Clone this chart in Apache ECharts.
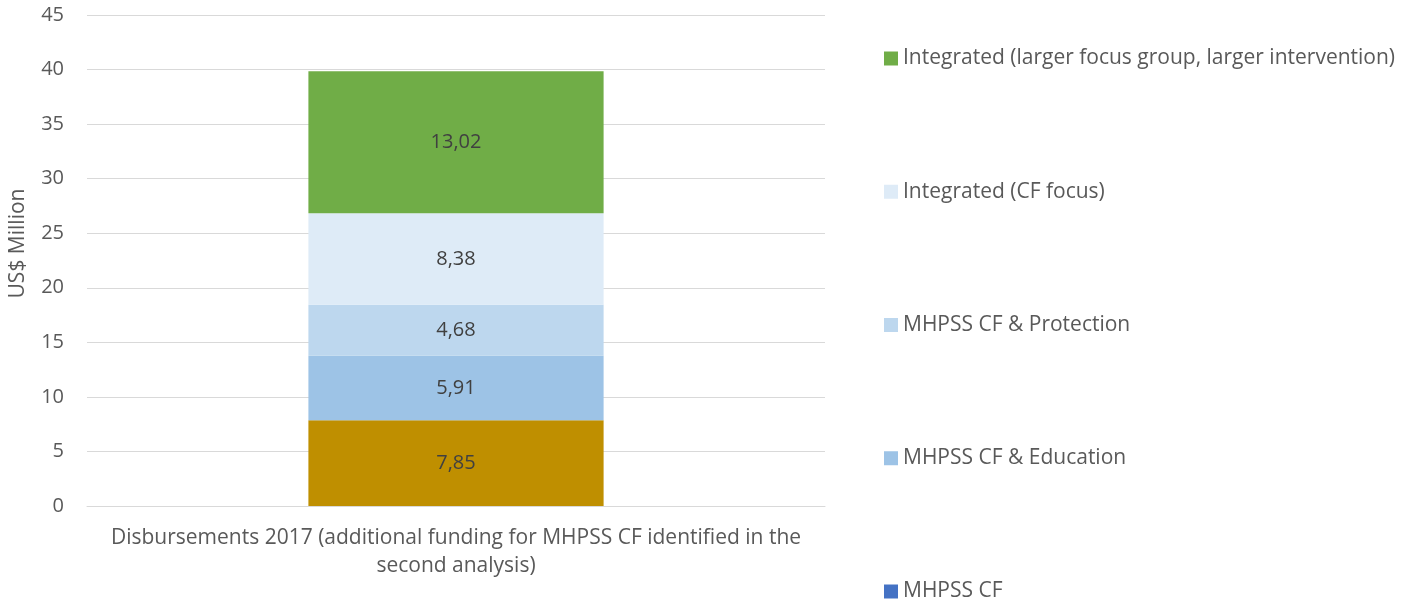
<!DOCTYPE html>
<html>
<head>
<meta charset="UTF-8">
<title>Disbursements 2017</title>
<script src="https://cdn.jsdelivr.net/npm/echarts@6/dist/echarts.min.js"></script>
<style>
  body { margin: 0; background: #fff; }
  #container { width: 1409px; height: 606px; }
</style>
</head>
<body>
<div id="container"></div>
<script>
// data
var categories = ['Disbursements 2017 (additional funding for MHPSS CF identified in the second analysis)'];
var seriesNames = ['MHPSS CF', 'MHPSS CF & Education', 'MHPSS CF & Protection', 'Integrated (CF focus)', 'Integrated (larger focus group, larger intervention)'];
var mhpssCf = [7.85];
var education = [5.91];
var protection = [4.68];
var cfFocus = [8.38];
var larger = [13.02];
var yTicks = [0, 5, 10, 15, 20, 25, 30, 35, 40, 45];

var values = [mhpssCf, education, protection, cfFocus, larger];
var legendColors = ['#4472C4', '#9DC3E6', '#BDD7EE', '#DEEBF7', '#70AD47'];
// bar for "MHPSS CF" is drawn gold in the original although its legend key is blue
var barColors = ['#BF8F00', '#9DC3E6', '#BDD7EE', '#DEEBF7', '#70AD47'];

var font = 'Open Sans';

var series = [];
for (var i = 0; i < seriesNames.length; i++) {
    series.push({
        name: seriesNames[i],
        type: 'bar',
        stack: 'total',
        barWidth: '40%',
        itemStyle: { color: legendColors[i] },
        label: {
            show: true,
            position: 'inside',
            color: '#404040',
            fontFamily: font,
            fontSize: 20,
            formatter: function (p) { return p.value.toFixed(2).replace('.', ','); }
        },
        data: values[i].map(function (v) {
            return { value: v, itemStyle: { color: barColors[i] } };
        })
    });
}

var chart = echarts.init(document.getElementById('container'));
chart.setOption({
    animation: false,
    grid: { left: 82, right: 584, top: 15, bottom: 100 },
    legend: {
        orient: 'vertical',
        left: 884,
        top: 48,
        bottom: 0,
        padding: 0,
        itemGap: 112.25,
        itemWidth: 14,
        itemHeight: 14,
        icon: 'rect',
        data: seriesNames.slice().reverse(),
        textStyle: { color: '#595959', fontFamily: font, fontSize: 21, lineHeight: 20 }
    },
    xAxis: {
        type: 'category',
        data: categories,
        axisLine: { show: true, lineStyle: { color: '#D9D9D9', width: 1 } },
        axisTick: { show: false },
        axisLabel: {
            color: '#595959',
            fontFamily: font,
            fontSize: 21,
            lineHeight: 28,
            margin: 18,
            formatter: function (v) { return v.replace(' second', '\nsecond'); }
        }
    },
    yAxis: {
        type: 'value',
        min: yTicks[0],
        max: yTicks[yTicks.length - 1],
        interval: 5,
        name: 'US$ Million',
        nameLocation: 'middle',
        nameGap: 58,
        nameTextStyle: { color: '#595959', fontFamily: font, fontSize: 21, padding: [0, 0, 0, 34] },
        axisLine: { show: false },
        axisTick: { show: false },
        axisLabel: { color: '#595959', fontFamily: font, fontSize: 20, margin: 23 },
        splitLine: { lineStyle: { color: '#D9D9D9', width: 1 } }
    },
    series: series
});
</script>
</body>
</html>
